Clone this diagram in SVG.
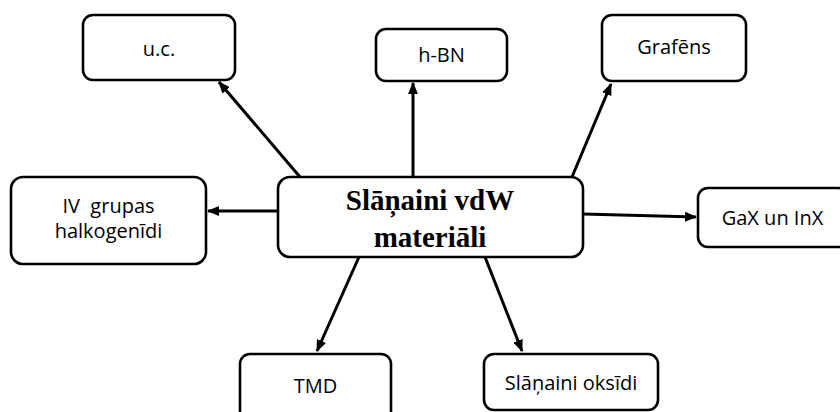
<svg xmlns="http://www.w3.org/2000/svg" width="840" height="412" viewBox="0 0 840 412">
<style>
.box{fill:#fff;stroke:#000;stroke-width:2.6}
.lbl{font-family:"Open Sans","Noto Sans",sans-serif;font-size:20px;fill:#000;text-anchor:middle}
.main{font-family:"Liberation Serif","Times New Roman",serif;font-size:29px;font-weight:bold;fill:#000;text-anchor:middle}
.con{stroke:#000;stroke-width:3;fill:none;marker-end:url(#ah)}
</style>
<defs>
<marker id="ah" markerUnits="userSpaceOnUse" markerWidth="12" markerHeight="10" refX="11" refY="5" orient="auto">
<path d="M0,0 L12,5 L0,10 Z" fill="#000"/>
</marker>
</defs>
<rect width="840" height="412" fill="#fff"/>
<g id="connectors">
<line class="con" x1="300" y1="177" x2="219" y2="82"/>
<line class="con" x1="413" y1="177" x2="413" y2="83"/>
<line class="con" x1="572" y1="177" x2="611" y2="84"/>
<line class="con" x1="278" y1="211" x2="208" y2="211"/>
<line class="con" x1="583" y1="214" x2="696" y2="217"/>
<line class="con" x1="359" y1="257" x2="317" y2="351"/>
<line class="con" x1="485" y1="257" x2="522" y2="351"/>
</g>
<g id="uc">
<rect class="box" x="83" y="15" width="152" height="65" rx="10"/>
<text class="lbl" x="159" y="56">u.c.</text>
</g>
<g id="hbn">
<rect class="box" x="376" y="29" width="131" height="52" rx="10"/>
<text class="lbl" x="441.5" y="62">h-BN</text>
</g>
<g id="grafens">
<rect class="box" x="602" y="15" width="144" height="66" rx="10"/>
<text class="lbl" x="674" y="54">Grafēns</text>
</g>
<g id="center">
<rect class="box" x="278" y="177" width="305" height="80" rx="12"/>
<text class="main" x="430" y="210">Slāņaini vdW</text>
<text class="main" x="430" y="247">materiāli</text>
</g>
<g id="iv">
<rect class="box" x="11" y="177" width="195" height="87" rx="12"/>
<text class="lbl" x="108.5" y="213" style="white-space:pre">IV  grupas</text>
<text class="lbl" x="108.5" y="238">halkogenīdi</text>
</g>
<g id="gax">
<rect class="box" x="698" y="188" width="150" height="59" rx="10"/>
<text class="lbl" x="772.5" y="225">GaX un InX</text>
</g>
<g id="tmd">
<rect class="box" x="240" y="354" width="151" height="70" rx="10"/>
<text class="lbl" x="315.5" y="393">TMD</text>
</g>
<g id="oksidi">
<rect class="box" x="484" y="354" width="174" height="56" rx="10"/>
<text class="lbl" x="571" y="390">Slāņaini oksīdi</text>
</g>
</svg>
